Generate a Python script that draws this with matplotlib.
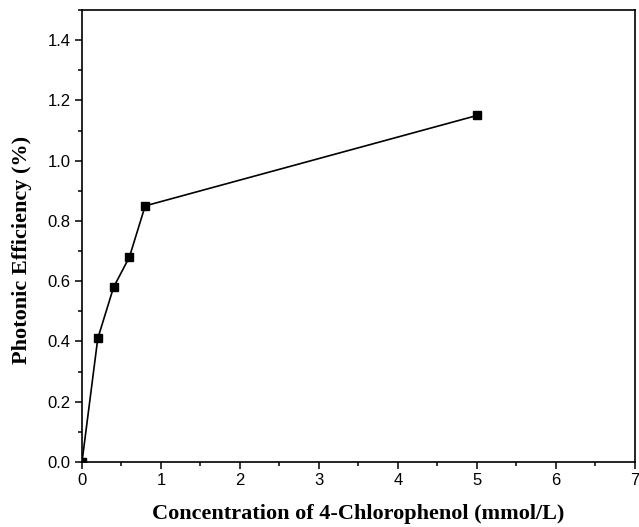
import matplotlib
matplotlib.use("Agg")
import matplotlib.pyplot as plt
from matplotlib.ticker import MultipleLocator, FormatStrFormatter

concentration = [0.0, 0.2, 0.4, 0.6, 0.8, 5.0]
efficiency = [0.0, 0.41, 0.58, 0.68, 0.85, 1.15]

fig = plt.figure(figsize=(6.39, 5.27), dpi=100)
ax = fig.add_axes([0.1283, 0.1233, 0.8654, 0.8577])

ax.plot(concentration, efficiency, color="black", lw=1.2, marker="s",
        markersize=6, markerfacecolor="black", markeredgecolor="black",
        zorder=3)

ax.set_xlim(0, 7)
ax.set_ylim(0, 1.5)
ax.xaxis.set_major_locator(MultipleLocator(1))
ax.xaxis.set_minor_locator(MultipleLocator(0.5))
ax.yaxis.set_major_locator(MultipleLocator(0.2))
ax.yaxis.set_minor_locator(MultipleLocator(0.1))
ax.yaxis.set_major_formatter(FormatStrFormatter("%.1f"))

for s in ax.spines.values():
    s.set_linewidth(1.2)

ax.tick_params(which="both", direction="out", top=False, right=False,
               width=1.1, labelsize=12)
ax.tick_params(which="major", length=5, pad=3)
ax.tick_params(which="minor", length=3)
for lab in ax.get_xticklabels() + ax.get_yticklabels():
    lab.set_fontfamily("Liberation Sans")

label_font = dict(family="Liberation Serif", weight="bold", size=16)
ax.set_xlabel("Concentration of 4-Chlorophenol (mmol/L)", **label_font)
ax.set_ylabel("Photonic Efficiency (%)", **label_font)
ax.xaxis.set_label_coords(0.5, -0.092)
ax.yaxis.set_label_coords(-0.09, 0.469)

fig.savefig("out.png", dpi=100)
